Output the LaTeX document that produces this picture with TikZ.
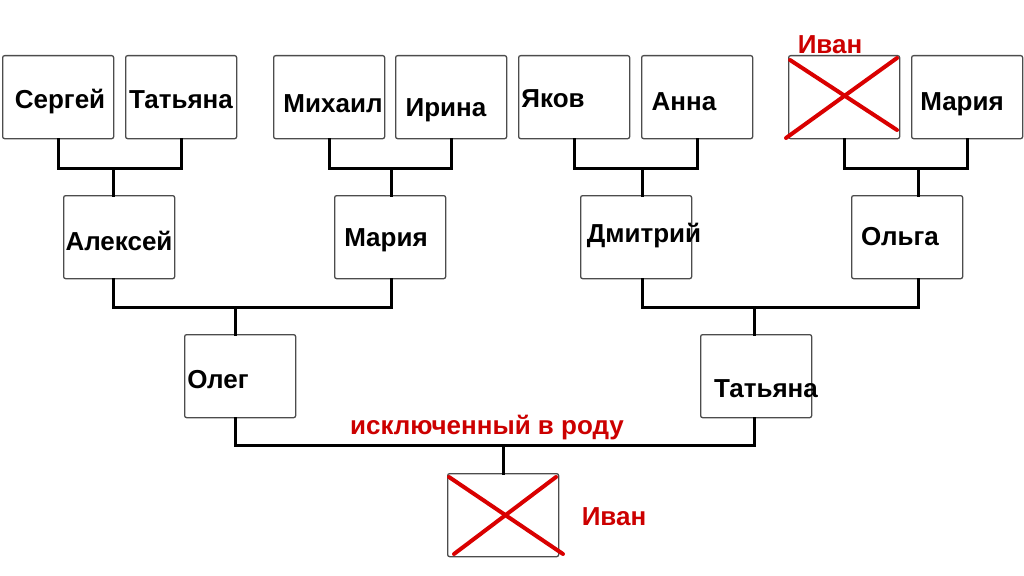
\documentclass[tikz,border=0pt]{standalone}
\usepackage{fontspec}
\setmainfont{Liberation Sans}
\begin{document}
\begin{tikzpicture}[x=1pt,y=-1pt,
 box/.style={draw=black!70,line width=1.3pt,rounded corners=2pt,minimum width=111pt,minimum height=83pt,anchor=north west,inner sep=0pt},
 lbl/.style={font=\fontsize{26}{30}\selectfont\bfseries},
 red lbl/.style={font=\fontsize{26}{30}\selectfont\bfseries,text=red!80!black},
 con/.style={line width=3pt,line cap=rect},
 crs/.style={draw=red!85!black,line width=4pt,line cap=round}]
\useasboundingbox (0,0) rectangle (1024,575);
% boxes
\node[box] (b1) at (2,55) {}; \node[box] (b2) at (125,55) {};
\node[box] (b3) at (273,55) {}; \node[box] (b4) at (395,55) {};
\node[box] (b5) at (518,55) {}; \node[box] (b6) at (641,55) {};
\node[box] (b7) at (788,55) {}; \node[box] (b8) at (911,55) {};
\node[box] (c1) at (63,195) {}; \node[box] (c2) at (334,195) {};
\node[box] (c3) at (580,195) {}; \node[box] (c4) at (851,195) {};
\node[box] (d1) at (184,334) {}; \node[box] (d2) at (700,334) {};
\node[box] (e1) at (447,473) {};
% labels
\node[lbl] (t1) at (60,102) {Сергей};
\node[lbl] (t2) at (181,100) {Татьяна};
\node[lbl] (t3) at (333,104) {Михаил};
\node[lbl] (t4) at (446,110) {Ирина};
\node[lbl] (t5) at (553,99) {Яков};
\node[lbl] (t6) at (684,102) {Анна};
\node[lbl] (t8) at (962,104) {Мария};
\node[lbl] (u1) at (119,241) {Алексей};
\node[lbl] (u2) at (386,240) {Мария};
\node[lbl] (u3) at (644,236) {Дмитрий};
\node[lbl] (u4) at (900,237) {Ольга};
\node[lbl] (v1) at (218,380) {Олег};
\node[lbl] (v2) at (766,389) {Татьяна};
\node[red lbl] (r1) at (830,45) {Иван};
\node[red lbl] (r2) at (614,517) {Иван};
\node[red lbl] (r3) at (487,428) {исключенный в роду};
% connectors
\coordinate (j1) at (113,168); \coordinate (j2) at (391,168);
\coordinate (j3) at (642,168); \coordinate (j4) at (918,168);
\coordinate (k1) at (235,307); \coordinate (k2) at (754,307);
\coordinate (m1) at (503,445);
\draw[con] (b1.south) |- (j1) -| (b2.south); \draw[con] (j1) -- (j1 |- c1.north);
\draw[con] (b3.south) |- (j2) -| (b4.south); \draw[con] (j2) -- (j2 |- c2.north);
\draw[con] (b5.south) |- (j3) -| (b6.south); \draw[con] (j3) -- (j3 |- c3.north);
\draw[con] (b7.south) |- (j4) -| (b8.south); \draw[con] (j4) -- (j4 |- c4.north);
\draw[con] (j1 |- c1.south) |- (k1) -| (j2 |- c2.south); \draw[con] (k1) -- (k1 |- d1.north);
\draw[con] (j3 |- c3.south) |- (k2) -| (j4 |- c4.south); \draw[con] (k2) -- (k2 |- d2.north);
\draw[con] (k1 |- d1.south) |- (m1) -| (k2 |- d2.south); \draw[con] (m1) -- (m1 |- e1.north);
% crosses
\draw[crs] (786,138) -- (897,58); \draw[crs] (790,60) -- (897,130);
\draw[crs] (449,477) -- (563,554); \draw[crs] (454,554) -- (556,477);
\end{tikzpicture}
\end{document}
